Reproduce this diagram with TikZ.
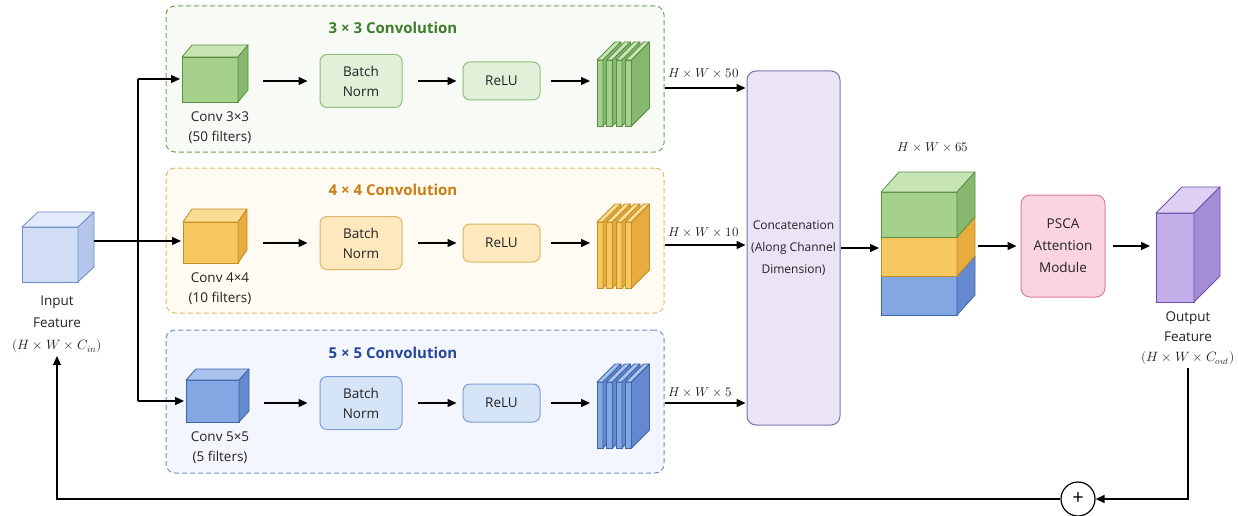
\documentclass[tikz,border=0pt]{standalone}
\usepackage{fontspec}
\usepackage{unicode-math}
\setmainfont{Open Sans}
\setmathfont{Latin Modern Math}
\usetikzlibrary{arrows.meta,calc}
% green
\definecolor{gfront}{HTML}{A5D18D}\definecolor{gtop}{HTML}{C6E4B4}\definecolor{gside}{HTML}{86B86E}\definecolor{gline}{HTML}{5B8F46}
\definecolor{ggline}{HTML}{6FA55B}\definecolor{ggfill}{HTML}{F8FBF5}\definecolor{gbline}{HTML}{8FBF7A}\definecolor{gbfill}{HTML}{E2F0D9}\definecolor{gtitle}{HTML}{3D7D2B}
% orange
\definecolor{ofront}{HTML}{F8C860}\definecolor{otop}{HTML}{FBDC95}\definecolor{oside}{HTML}{E6AD3E}\definecolor{oline}{HTML}{C48D25}
\definecolor{ogline}{HTML}{E6B96A}\definecolor{ogfill}{HTML}{FFFBF3}\definecolor{obline}{HTML}{DCB566}\definecolor{obfill}{HTML}{FDE9BD}\definecolor{otitle}{HTML}{C97D12}
% blue
\definecolor{bfront}{HTML}{82A7E2}\definecolor{btop}{HTML}{A9C3EE}\definecolor{bside}{HTML}{6489CF}\definecolor{bline}{HTML}{3E64A8}
\definecolor{bgline}{HTML}{6F8FC7}\definecolor{bgfill}{HTML}{F3F6FC}\definecolor{bbline}{HTML}{7D9FD6}\definecolor{bbfill}{HTML}{D6E4F7}\definecolor{btitle}{HTML}{27489A}
% input / output cubes
\definecolor{ifront}{HTML}{D2DEF6}\definecolor{itop}{HTML}{E3EBFA}\definecolor{iside}{HTML}{B4C6EC}\definecolor{iline}{HTML}{6F8CC6}
\definecolor{pfront}{HTML}{C3AEEA}\definecolor{ptop}{HTML}{DDD0F3}\definecolor{pside}{HTML}{A48DD4}\definecolor{pline}{HTML}{6E4FB0}
\definecolor{catfill}{HTML}{EBE3F6}\definecolor{catline}{HTML}{7F70AD}
\definecolor{pscafill}{HTML}{FAD4E0}\definecolor{pscaline}{HTML}{D87E99}
\definecolor{ink}{HTML}{222222}

\newcommand{\cubeat}[7]{%
  \node[cubefront=#7, minimum width=#3pt, minimum height=#4pt] (#1) at (#2) {};
  \filldraw[cubeface, fill=#7top, draw=#7line] (#1.north west) -- ++(#5,-#6) -- ($(#1.north east)+(#5,-#6)$) -- (#1.north east) -- cycle;
  \filldraw[cubeface, fill=#7side, draw=#7line] (#1.north east) -- ++(#5,-#6) -- ($(#1.south east)+(#5,-#6)$) -- (#1.south east) -- cycle;
}
\newcommand{\slabstack}[3]{% prefix, first x, row y
  \foreach \i in {0,...,3}{\cubeat{#1s\i}{{#2+3+9.5*\i},{#3+13}}{6}{66}{18}{18}{#1}}
}

\begin{document}
\begin{tikzpicture}[x=1pt,y=-1pt,
  cubefront/.style={draw=#1line, fill=#1front, line width=0.8pt, inner sep=0pt, outer sep=0pt},
  cubeface/.style={line width=0.8pt, line join=round},
  grp/.style={draw=#1gline, fill=#1gfill, dash pattern=on 5pt off 3pt, line width=1pt, rounded corners=9pt, inner sep=0pt},
  proc/.style={draw=#1bline, fill=#1bfill, rounded corners=7pt, line width=1pt, align=center, inner sep=0pt, text=ink, font=\fontsize{13.5}{20}\selectfont},
  grptitle/.style={text=#1title, font=\bfseries\fontsize{15}{17}\selectfont},
  lbl/.style={align=center, text=ink, font=\fontsize{13.5}{20}\selectfont},
  dimlbl/.style={anchor=west, text=ink, font=\fontsize{13}{15}\selectfont, inner sep=0pt},
  ln/.style={line width=1.4pt, draw=black},
  arr/.style={ln, -{Triangle[length=9pt,width=8pt]}}
]
\useasboundingbox (0,0) rectangle (1238,516);

% group boxes
\node[grp=g, minimum width=498pt, minimum height=146pt] (gbox) at (415,79) {};
\node[grp=o, minimum width=498pt, minimum height=145pt] (obox) at (415,240.5) {};
\node[grp=b, minimum width=498pt, minimum height=143pt] (bbox) at (415,401.5) {};
\node[grptitle=g] (gtitle) at (393,28) {3 × 3 Convolution};
\node[grptitle=o] (otitle) at (393,190) {4 × 4 Convolution};
\node[grptitle=b] (btitle) at (393,353) {5 × 5 Convolution};

% input cube
\cubeat{inc}{50,254.5}{56}{55}{16}{15}{i}
\node[lbl, font=\fontsize{13.5}{22}\selectfont] (inlbl) at (57,324) {Input\\Feature\\$(H\times W\times C_{in})$};

% branch cubes
\cubeat{gc}{210,79.5}{56}{45}{10}{12}{g}
\cubeat{oc}{210.5,242.5}{55}{41}{9}{13}{o}
\cubeat{bc}{212.5,401}{53}{42}{10}{11}{b}
\node[lbl] (gclbl) at (220,127.5) {Conv 3×3\\(50 filters)};
\node[lbl] (oclbl) at (220,288.5) {Conv 4×4\\(10 filters)};
\node[lbl] (bclbl) at (220,447.5) {Conv 5×5\\(5 filters)};

% BN and ReLU
\node[proc=g, minimum width=82pt, minimum height=53pt] (gbn) at (361,81) {Batch\\Norm};
\node[proc=o, minimum width=82pt, minimum height=53pt] (obn) at (361,243) {Batch\\Norm};
\node[proc=b, minimum width=82pt, minimum height=53pt] (bbn) at (361,403) {Batch\\Norm};
\node[proc=g, minimum width=77pt, minimum height=38pt] (grelu) at (501.5,81) {ReLU};
\node[proc=o, minimum width=77pt, minimum height=38pt] (orelu) at (501.5,243) {ReLU};
\node[proc=b, minimum width=77pt, minimum height=38pt] (brelu) at (501.5,403) {ReLU};

% feature-map stacks
\slabstack{g}{597}{80}
\slabstack{o}{597}{242}
\slabstack{b}{597}{402}

% concat, stacked cube, PSCA, output
\node[draw=catline, fill=catfill, rounded corners=9pt, line width=1pt, minimum width=93pt, minimum height=354pt, align=center, inner sep=0pt, text=ink, font=\fontsize{12}{22}\selectfont] (cat) at (793.5,248) {Concatenation\\(Along Channel\\Dimension)};
\cubeat{sb}{919,295.5}{76}{39}{18}{20}{b}
\cubeat{so}{919,256.5}{76}{39}{18}{20}{o}
\cubeat{sg}{919,214.5}{76}{45}{18}{20}{g}
\node[dimlbl, anchor=center] (s65) at (933,147) {$H\times W\times 65$};
\node[draw=pscaline, fill=pscafill, rounded corners=9pt, line width=1pt, minimum width=84pt, minimum height=102pt, align=center, inner sep=0pt, text=ink, font=\fontsize{13.5}{22}\selectfont] (psca) at (1063,246) {PSCA\\Attention\\Module};
\cubeat{outc}{1175,257.5}{38}{89}{26}{26}{p}
\node[lbl] (outlbl) at (1188,338) {Output\\Feature\\$(H\times W\times C_{out})$};

% plus node
\node[circle, draw=black, line width=1.2pt, minimum size=34pt, inner sep=0pt, font=\fontsize{20}{20}\selectfont] (plus) at (1078,499) {+};

% input fan-out
\coordinate (j1) at (138,79);
\coordinate (j2) at (138,241);
\coordinate (j3) at (138,401);
\draw[ln] ($(j2 -| inc.east)+(16,0)$) -- (j2);
\draw[ln] (j1) -- (j3);
\draw[arr, shorten >=2pt] (j1) -- (j1 -| gc.west);
\draw[arr, shorten >=2pt] (j2) -- (j2 -| oc.west);
\draw[arr, shorten >=2pt] (j3) -- (j3 -| bc.west);

% in-branch arrows
\foreach \p in {g,o,b}{
  \draw[arr, shorten <=25pt, shorten >=12pt] (\p bn.west -| \p c.east) -- (\p bn.west);
  \draw[arr, shorten <=15pt, shorten >=6pt] (\p bn.east) -- (\p bn.east -| \p relu.west);
  \draw[arr, shorten <=10pt, shorten >=7pt] (\p relu.east) -- (\p relu.east -| \p s0.west);
}

% to concat
\coordinate (g50) at (665,88);
\coordinate (o10) at (665,245);
\coordinate (b5) at (665,403);
\draw[arr, shorten >=1pt] (g50) -- (g50 -| cat.west);
\draw[arr, shorten >=1pt] (o10) -- (o10 -| cat.west);
\draw[arr, shorten >=1pt] (b5) -- (b5 -| cat.west);
\node[dimlbl] (l50) at (668,73) {$H\times W\times 50$};
\node[dimlbl] (l10) at (668,232) {$H\times W\times 10$};
\node[dimlbl] (l5) at (668,392) {$H\times W\times 5$};

% right part
\draw[arr, shorten >=2pt] (cat.east) -- (cat.east -| so.west);
\coordinate (sr) at ($(so.east)+(21,0)$);
\draw[arr, shorten >=4pt] (psca.west -| sr) -- (psca.west);
\draw[arr, shorten <=7pt, shorten >=6pt] (psca.east) -- (psca.east -| outc.west);

% residual
\draw[arr] (outlbl.south) |- (plus.east);
\draw[arr] (plus.west) -| (inlbl.south);
\end{tikzpicture}
\end{document}
